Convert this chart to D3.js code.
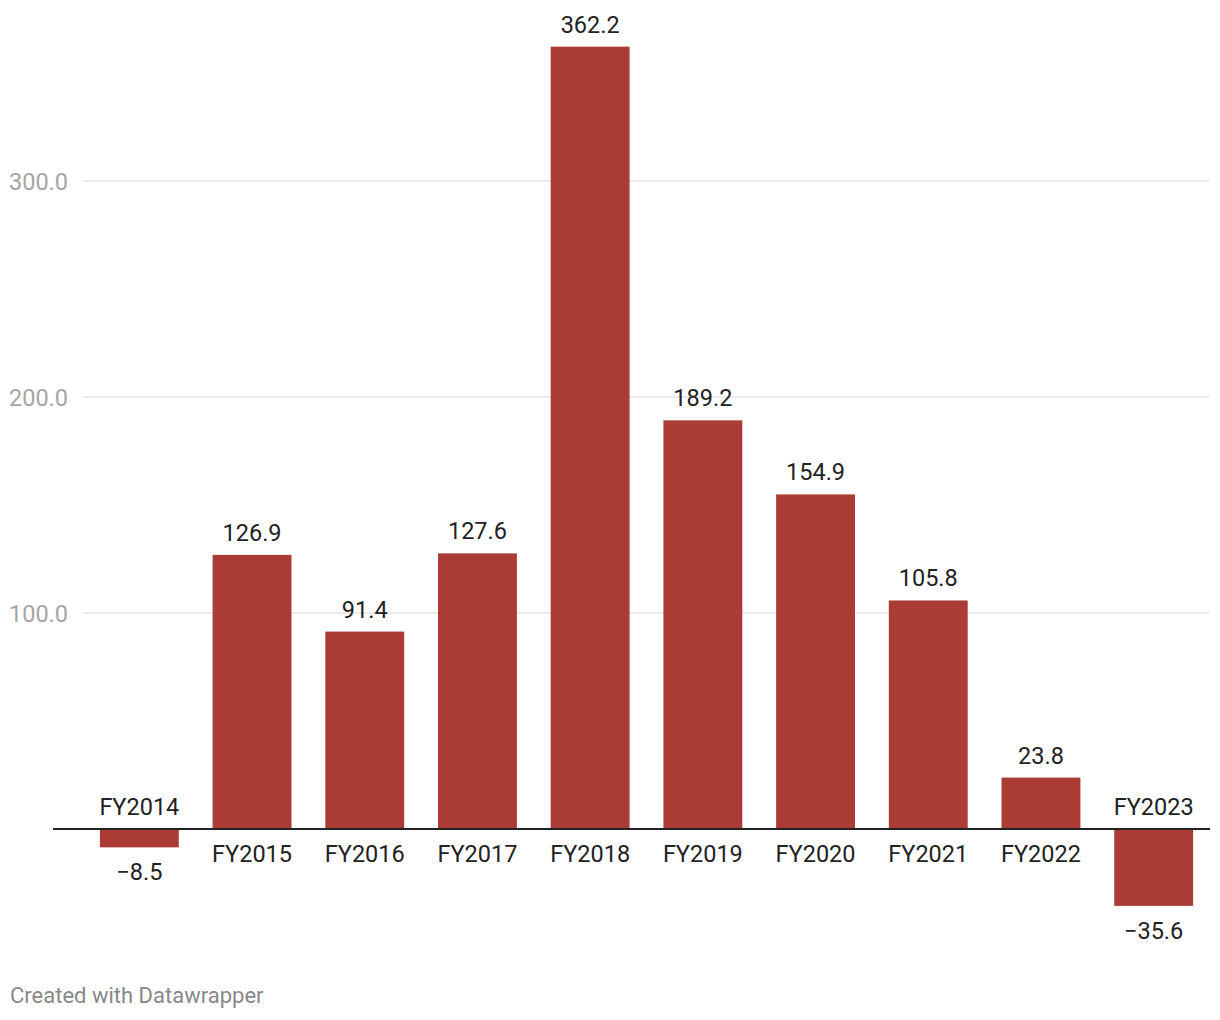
<!DOCTYPE html>
<html>
<head>
<meta charset="utf-8">
<script src="https://cdn.jsdelivr.net/npm/d3@7"></script>
<style>
  body { margin: 0; background: #fff; }
  svg { font-family: Roboto, sans-serif; }
</style>
</head>
<body>
<div id="chart"></div>
<script>
const years = ["FY2014", "FY2015", "FY2016", "FY2017", "FY2018", "FY2019", "FY2020", "FY2021", "FY2022", "FY2023"];
const values = [-8.5, 126.9, 91.4, 127.6, 362.2, 189.2, 154.9, 105.8, 23.8, -35.6];
const yTicks = [100, 200, 300];

const width = 1220, height = 1020;
const barColor = "#ab3c35";

const svg = d3.select("#chart")
  .append("svg")
  .attr("width", width)
  .attr("height", height);

const x = d3.scaleBand()
  .domain(years)
  .range([83, 1210])
  .paddingInner(0.3)
  .paddingOuter(0.15);

const y = d3.scaleLinear()
  .domain([0, 300])
  .range([829, 181]);

const fmt = v => (v < 0 ? "\u2212" : "") + Math.abs(v).toFixed(1);

// gridlines + tick labels
const grid = svg.append("g");
grid.selectAll("line")
  .data(yTicks)
  .enter().append("line")
    .attr("x1", 83)
    .attr("x2", 1210)
    .attr("y1", d => y(d))
    .attr("y2", d => y(d))
    .attr("stroke", "#e3e3e3")
    .attr("stroke-width", 1.5);
grid.selectAll("text")
  .data(yTicks)
  .enter().append("text")
    .attr("x", 9)
    .attr("y", d => y(d) + 9)
    .style("font-size", "23.5px")
    .attr("fill", "#a5a5a5")
    .text(d => d.toFixed(1));

// bars
svg.append("g")
  .selectAll("rect")
  .data(values)
  .enter().append("rect")
    .attr("fill", barColor)
    .attr("x", (d, i) => x(years[i]))
    .attr("width", x.bandwidth())
    .attr("y", d => y(Math.max(0, d)))
    .attr("height", d => Math.abs(y(d) - y(0)));

// zero line
svg.append("line")
  .attr("x1", 53)
  .attr("x2", 1210)
  .attr("y1", y(0))
  .attr("y2", y(0))
  .attr("stroke", "#222")
  .attr("stroke-width", 2);

// value labels
svg.append("g")
  .selectAll("text")
  .data(values)
  .enter().append("text")
    .attr("x", (d, i) => x(years[i]) + x.bandwidth() / 2)
    .attr("y", d => d >= 0 ? y(d) - 14 : y(d) + 33)
    .attr("text-anchor", "middle")
    .style("font-size", "23.5px")
    .attr("fill", "#222")
    .text(d => fmt(d));

// category labels
svg.append("g")
  .selectAll("text")
  .data(values)
  .enter().append("text")
    .attr("x", (d, i) => x(years[i]) + x.bandwidth() / 2)
    .attr("y", d => d >= 0 ? y(0) + 33 : y(0) - 14)
    .attr("text-anchor", "middle")
    .style("font-size", "23.5px")
    .attr("fill", "#222")
    .text((d, i) => years[i]);

svg.append("text")
  .attr("x", 10)
  .attr("y", 1003)
  .style("font-size", "22px")
  .attr("fill", "#888")
  .text("Created with Datawrapper");
</script>
</body>
</html>
